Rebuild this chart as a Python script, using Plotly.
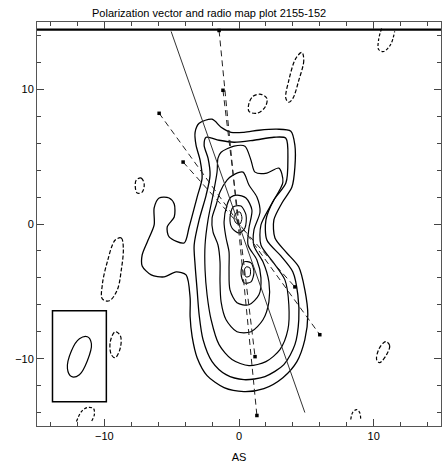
import plotly.graph_objects as go

# ---- radio map contours (arcsec offsets), traced level by level ----
c1_x = [-2.96, -2.0, -1.33, -0.59, 0.37, 1.48, 2.81, 3.85, 4.15, 4.15, 3.93, 3.19, 2.59, 2.67, 3.48, 4.44, 4.89, 5.11, 4.89, 4.30, 3.26, 1.85, 0.37, -1.11, -2.37, -3.11, -3.48, -3.63, -3.63, -3.93, -4.67, -5.56, -6.52, -7.19, -7.19, -6.81, -6.30, -6.30, -5.93, -5.19, -4.81, -4.81, -5.33, -5.19, -4.07, -3.70, -3.11, -2.74, -2.89, -3.19, -3.26]
c1_y = [7.48, 7.78, 7.19, 6.81, 6.81, 6.96, 7.04, 6.89, 5.85, 4.22, 2.74, 1.56, 0.30, -1.04, -2.07, -3.19, -4.89, -6.74, -8.59, -10.22, -11.41, -12.22, -12.44, -12.15, -11.26, -9.93, -8.37, -6.89, -5.48, -3.78, -3.56, -3.93, -3.78, -3.11, -2.30, -1.33, -0.07, 1.19, 1.93, 1.93, 1.48, 0.52, -0.22, -0.96, -1.41, -0.22, 2.0, 3.41, 4.74, 5.85, 6.81]

c2_x = [-2.44, -1.48, -0.37, 1.11, 2.59, 3.48, 3.63, 3.48, 2.59, 2.0, 2.07, 3.11, 4.0, 4.37, 4.44, 4.15, 3.33, 1.93, 0.37, -0.96, -2.0, -2.67, -2.96, -3.11, -3.26, -3.33, -2.96, -2.44, -2.15, -2.30, -2.59]
c2_y = [6.44, 6.22, 6.07, 6.22, 6.44, 6.37, 4.74, 3.04, 1.78, 0.30, -1.19, -2.37, -3.56, -5.26, -7.11, -8.96, -10.44, -11.33, -11.56, -11.19, -10.22, -8.59, -6.74, -4.89, -3.04, -1.56, 0.30, 2.15, 3.63, 4.89, 5.85]

c3_x = [-1.33, -0.37, 0.44, 0.89, 1.19, 2.07, 2.96, 3.26, 2.37, 1.63, 1.63, 2.52, 3.41, 3.70, 3.63, 3.04, 2.0, 0.74, -0.52, -1.48, -2.07, -2.37, -2.52, -2.52, -2.30, -1.93, -1.63, -1.56]
c3_y = [5.33, 5.78, 5.78, 4.74, 3.85, 3.78, 4.15, 3.11, 1.41, -0.07, -1.56, -2.81, -4.15, -6.0, -7.85, -9.33, -10.22, -10.52, -10.07, -8.96, -7.11, -5.26, -3.41, -1.56, 0.30, 2.15, 3.85, 4.89]

c4_x = [-0.44, 0.30, 0.74, 1.33, 1.56, 1.11, 1.11, 1.78, 2.22, 2.22, 1.78, 0.89, -0.15, -0.96, -1.33, -1.41, -1.41, -1.56, -1.93, -2.0, -1.70, -1.41, -0.89]
c4_y = [3.63, 3.85, 2.89, 2.0, 0.89, -0.44, -1.63, -2.81, -4.30, -5.78, -7.11, -8.0, -8.0, -7.11, -5.78, -4.30, -2.81, -1.56, -0.59, 0.44, 1.41, 2.37, 3.26]

c5_x = [-0.15, 0.52, 0.96, 0.74, 0.67, 1.33, 1.63, 1.48, 0.74, -0.15, -0.67, -0.74, -0.74, -0.96, -1.11, -0.89, -0.59]
c5_y = [2.15, 1.93, 1.04, -0.30, -1.56, -2.67, -4.0, -5.26, -6.0, -5.85, -4.89, -3.41, -2.07, -1.04, 0.15, 1.41, 2.0]

core6_x = [-0.44, 0.15, 0.52, 0.44, 0.0, -0.52, -0.67]
core6_y = [1.26, 1.33, 0.67, -0.30, -0.67, -0.30, 0.44]
core7_x = [-0.22, 0.07, 0.22, 0.07, -0.22, -0.37]
core7_y = [0.81, 0.89, 0.44, 0.0, 0.07, 0.44]

knot6_x = [0.37, 0.89, 1.11, 0.89, 0.37, 0.15]
knot6_y = [-2.81, -2.89, -3.56, -4.30, -4.37, -3.63]
knot7_x = [0.52, 0.81, 0.81, 0.52, 0.37]
knot7_y = [-3.19, -3.26, -3.85, -3.93, -3.56]

# ---- isolated low-level patches (closed) ----
blob_ne_x = [4.67, 4.81, 4.44, 4.0, 3.70, 3.48, 3.70, 4.22]
blob_ne_y = [12.74, 12.15, 10.67, 9.33, 9.04, 9.33, 10.67, 12.30]
blob_n_x = [0.74, 1.04, 1.63, 2.07, 1.93, 1.33, 0.74]
blob_n_y = [8.96, 9.48, 9.63, 9.33, 8.67, 8.22, 8.37]
blob_w_x = [-7.63, -7.26, -7.04, -7.19, -7.56, -7.70]
blob_w_y = [3.26, 3.41, 2.96, 2.37, 2.30, 2.74]
blob_sw_x = [-9.19, -8.74, -8.59, -8.74, -9.04, -9.63, -10.15, -10.15, -9.78]
blob_sw_y = [-1.19, -1.04, -1.78, -3.41, -4.89, -5.70, -5.56, -4.52, -2.81]
blob_box_x = [-9.19, -8.81, -8.81, -9.19, -9.48, -9.56]
blob_box_y = [-8.0, -8.30, -9.19, -9.93, -9.70, -8.74]
blob_se_x = [10.96, 11.19, 10.96, 10.44, 10.22, 10.37, 10.74]
blob_se_y = [-8.74, -9.04, -9.70, -10.30, -10.07, -9.33, -8.81]

# ---- open fragments cut by the map edge ----
arc_s1_x = [-12.07, -11.70, -11.26, -10.81, -10.74, -10.96]
arc_s1_y = [-14.67, -13.93, -13.63, -13.70, -14.15, -14.67]
arc_s2_x = [8.30, 8.44, 8.74, 8.96, 9.04]
arc_s2_y = [-14.52, -14.0, -13.78, -14.0, -14.52]
arc_n_x = [10.59, 10.37, 10.37, 10.74, 11.26, 11.56]
arc_n_y = [14.52, 13.70, 12.96, 12.81, 13.33, 14.30]

# ---- restoring beam and its frame ----
beam_x = [-11.26, -10.96, -11.26, -11.85, -12.44, -12.74, -12.44, -11.85]
beam_y = [-8.37, -8.89, -10.15, -11.19, -11.33, -10.74, -9.41, -8.52]
beam_box_x = [-13.85, -9.85]
beam_box_y = [-13.19, -6.44]

# ---- polarization vectors (end points) and jet axis ----
pol_x0 = [-1.48, -1.19, -5.93, -4.15]
pol_y0 = [14.37, 9.93, 8.22, 4.60]
pol_x1 = [1.33, 1.19, 6.00, 4.15]
pol_y1 = [-14.22, -9.85, -8.22, -4.67]
axis_x = [-5.04, 4.89]
axis_y = [14.30, -14.00]

edge_y = 14.44

FONT = "Liberation Sans, Arial, sans-serif"

fig = go.Figure()


def closed(xs, ys):
    return xs + xs[:1], ys + ys[:1]


main_levels = [
    (c1_x, c1_y, 1.3), (c2_x, c2_y, 1.3), (c3_x, c3_y, 1.2),
    (c4_x, c4_y, 1.2), (c5_x, c5_y, 1.2),
    (core6_x, core6_y, 1.1), (core7_x, core7_y, 1.0),
    (knot6_x, knot6_y, 1.1), (knot7_x, knot7_y, 1.0),
]
for xs, ys, w in main_levels:
    cx, cy = closed(xs, ys)
    fig.add_trace(go.Scatter(x=cx, y=cy, mode="lines",
                             line=dict(color="black", width=w, shape="spline", smoothing=0.8),
                             hoverinfo="skip", showlegend=False))

for xs, ys in [(blob_ne_x, blob_ne_y), (blob_n_x, blob_n_y), (blob_w_x, blob_w_y),
               (blob_sw_x, blob_sw_y), (blob_box_x, blob_box_y), (blob_se_x, blob_se_y)]:
    cx, cy = closed(xs, ys)
    fig.add_trace(go.Scatter(x=cx, y=cy, mode="lines",
                             line=dict(color="black", width=1.2, dash="4px,2px",
                                       shape="spline", smoothing=1.0),
                             hoverinfo="skip", showlegend=False))

for xs, ys in [(arc_s1_x, arc_s1_y), (arc_s2_x, arc_s2_y), (arc_n_x, arc_n_y)]:
    fig.add_trace(go.Scatter(x=xs, y=ys, mode="lines",
                             line=dict(color="black", width=1.2, dash="3px,2px",
                                       shape="spline", smoothing=1.0),
                             hoverinfo="skip", showlegend=False))

# beam ellipse inside its box
bx, by = closed(beam_x, beam_y)
fig.add_trace(go.Scatter(x=bx, y=by, mode="lines",
                         line=dict(color="black", width=1.2, shape="spline", smoothing=1.0),
                         hoverinfo="skip", showlegend=False))
fig.add_shape(type="rect", x0=beam_box_x[0], x1=beam_box_x[1],
              y0=beam_box_y[0], y1=beam_box_y[1],
              line=dict(color="black", width=1.5))

# jet axis
fig.add_trace(go.Scatter(x=axis_x, y=axis_y, mode="lines",
                         line=dict(color="#333333", width=1),
                         hoverinfo="skip", showlegend=False))

# polarization vectors
for xa, ya, xb, yb in zip(pol_x0, pol_y0, pol_x1, pol_y1):
    fig.add_trace(go.Scatter(x=[xa, xb], y=[ya, yb], mode="lines+markers",
                             line=dict(color="#222222", width=1, dash="6px,4px"),
                             marker=dict(symbol="square", size=3.5, color="black"),
                             hoverinfo="skip", showlegend=False))

# upper map edge
fig.add_trace(go.Scatter(x=[-15, 15], y=[edge_y, edge_y], mode="lines",
                         line=dict(color="black", width=2.2),
                         hoverinfo="skip", showlegend=False))

axis_common = dict(
    range=[-15, 15], dtick=10, tick0=0,
    ticks="inside", ticklen=7, tickwidth=1, tickcolor="#444444",
    minor=dict(dtick=2, tick0=0, ticks="inside", ticklen=4, tickcolor="#444444", tickwidth=1),
    showline=True, linecolor="#555555", linewidth=1, mirror="ticks",
    showgrid=False, zeroline=False,
    tickfont=dict(family=FONT, size=11, color="black"),
)

fig.update_layout(
    width=445, height=466,
    margin=dict(l=37, r=4, t=22, b=40),
    plot_bgcolor="white", paper_bgcolor="white",
    xaxis=dict(axis_common, title=dict(text="AS", standoff=12,
               font=dict(family=FONT, size=11, color="black"))),
    yaxis=dict(axis_common),
    annotations=[dict(text="Polarization vector and radio map plot 2155-152",
                      xref="paper", yref="paper", x=0.426, y=1.0, yshift=1,
                      xanchor="center", yanchor="bottom", showarrow=False,
                      font=dict(family=FONT, size=11, color="black"))],
)

fig.write_html("out.html")
